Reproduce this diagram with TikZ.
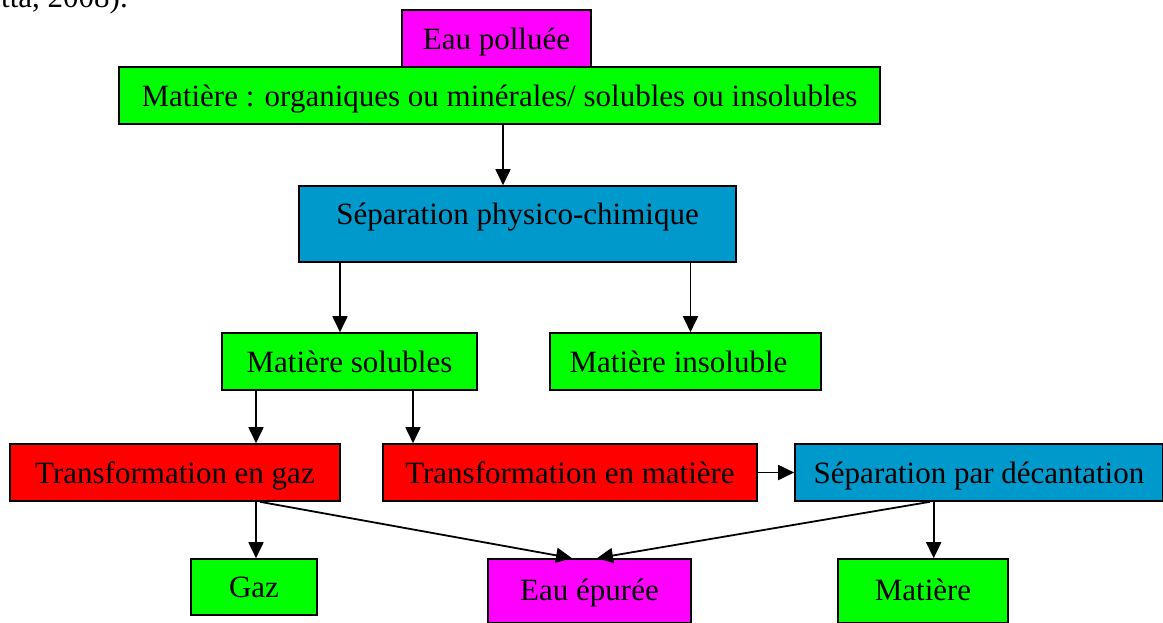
\documentclass[tikz,border=0pt]{standalone}
\usepackage{fontspec}
\setmainfont{Liberation Serif}
\usetikzlibrary{arrows.meta}
\definecolor{cgreen}{RGB}{0,255,0}
\definecolor{cmag}{RGB}{255,0,255}
\definecolor{cblue}{RGB}{0,153,204}
\definecolor{cred}{RGB}{255,0,0}
\tikzset{
  box/.style={draw=black, line width=1.6pt, inner sep=0pt, text height=21pt, text depth=0pt,
    font=\fontsize{31}{37}\selectfont},
  gbox/.style={box, fill=cgreen},
  mbox/.style={box, fill=cmag},
  bbox/.style={box, fill=cblue},
  rbox/.style={box, fill=cred},
  arr/.style={line width=1.8pt, -{Triangle[length=16pt,width=15pt]}},
}
\begin{document}
\begin{tikzpicture}[x=1pt,y=-1pt]
\useasboundingbox (0,0) rectangle (1163,622);
\clip (0,0) rectangle (1163,622);
\node[anchor=base east, inner sep=0pt, font=\fontsize{31}{37}\selectfont] (cite) at (128,7) {etta, 2008).};
\node[mbox, minimum width=189pt, minimum height=57pt] (pol) at (496.5,38.5) {Eau polluée};
\node[gbox, minimum width=761pt, minimum height=57pt] (mat) at (499.5,95.5) {Matière : organiques ou minérales/ solubles ou insolubles};
\node[bbox, minimum width=437pt, minimum height=76pt, text height=23pt, text depth=23pt] (sep) at (517.5,224) {Séparation physico-chimique};
\node[gbox, minimum width=271pt, minimum height=57pt] (ins) at (685.5,361.5) {\hspace*{-14pt}Matière insoluble};
\node[gbox, minimum width=255pt, minimum height=57pt] (sol) at (349.5,361.5) {Matière solubles};
\node[rbox, minimum width=330pt, minimum height=57pt] (tg) at (175,472.5) {Transformation en gaz};
\node[rbox, minimum width=374pt, minimum height=57pt] (tm) at (570,472.5) {Transformation en matière};
\node[bbox, minimum width=368pt, minimum height=57pt] (sd) at (979,472.5) {Séparation par décantation};
\node[gbox, minimum width=126pt, minimum height=56pt] (gaz) at (254,587) {Gaz};
\node[mbox, minimum width=203pt, minimum height=64pt, text height=18pt] (ep) at (589.5,591) {Eau épurée};
\node[gbox, minimum width=170pt, minimum height=64pt, text height=18pt] (mt) at (923,591) {Matière};
% connectors
\draw[arr] ([xshift=3.5pt]mat.south) -- ([xshift=3.5pt]mat.south |- sep.north);
\draw[arr] ([xshift=-9.5pt]sol.north |- sep.south) -- ([xshift=-9.5pt]sol.north);
\draw[arr] ([xshift=5pt]ins.north |- sep.south) -- ([xshift=5pt]ins.north);
\draw[arr] ([xshift=-93.5pt]sol.south) -- ([xshift=-93.5pt]sol.south |- tg.north);
\draw[arr] ([xshift=63.5pt]sol.south) -- ([xshift=63.5pt]sol.south |- tm.north);
\draw[arr] (tm.east) -- (sd.west);
\draw[arr] ([xshift=2pt]gaz.north |- tg.south) -- ([xshift=2pt]gaz.north);
\draw[arr] ([xshift=85pt]tg.south) -- ([xshift=-17.5pt]ep.north);
\draw[arr] ([xshift=-49pt]sd.south) -- ([xshift=7.5pt]ep.north);
\draw[arr] ([xshift=10.7pt]mt.north |- sd.south) -- ([xshift=10.7pt]mt.north);
\end{tikzpicture}
\end{document}
